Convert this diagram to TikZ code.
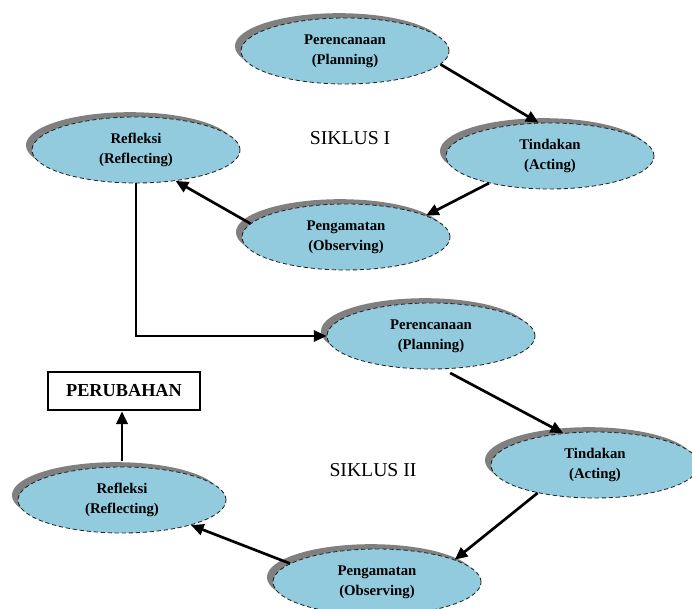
\documentclass[tikz,border=0pt]{standalone}
\usepackage{fontspec}
\setmainfont{Liberation Serif}
\usetikzlibrary{shapes.geometric, shadows, arrows.meta}
\definecolor{siklusblue}{RGB}{146,203,222}
\begin{document}
\begin{tikzpicture}[
    x = 0.025cm, y = -0.025cm,
    main/.style = {draw = black!85, densely dashed, line width = 0.6pt, ellipse,
        fill = siklusblue, minimum width = 5.2cm, minimum height = 1.65cm,
        align = center, font = \fontsize{10.5}{14}\selectfont\bfseries,
        drop shadow = {shadow xshift = -0.15cm, shadow yshift = 0.12cm,
            fill = gray, opacity = 1}},
    siklus/.style = {font = \fontsize{14}{16}\selectfont},
    conn/.style = {line width = 1.9pt, -{Triangle[length = 9pt, width = 8pt]}}
]
\useasboundingbox (0,0) rectangle (692,609);

% Siklus I
\node[main] (1) at (345,51)  {Perencanaan\\(Planning)};
\node[main] (2) at (550,156) {Tindakan\\(Acting)};
\node[main] (3) at (346,237) {Pengamatan\\(Observing)};
\node[main] (4) at (136,150) {Refleksi\\(Reflecting)};
\node[siklus] (s1) at (350,138) {SIKLUS I};

% Siklus II
\node[main] (5) at (431,336) {Perencanaan\\(Planning)};
\node[main] (6) at (595,465) {Tindakan\\(Acting)};
\node[main] (7) at (377,582) {Pengamatan\\(Observing)};
\node[main] (8) at (122,500) {Refleksi\\(Reflecting)};
\node[siklus] (s2) at (373,470) {SIKLUS II};

% Hasil
\node[draw, line width = 2pt, minimum width = 3.8cm, minimum height = 0.95cm,
    font = \fontsize{13}{15}\selectfont\bfseries] (9) at (124,391) {PERUBAHAN};

% Siklus I connections
\draw[conn] (1.-8)  -- (2.109);
\draw[conn] (2.204) -- (3.15);
\draw[conn] (3.172) -- (4.-38);

% Into siklus II
\draw[conn, line width = 1.4pt] (4.south) |- (5.west);

% Siklus II connections
\draw[conn, shorten <= 0.2cm] (5.-70) -- (6.135);
\draw[conn] (6.206) -- (7.16);
\draw[conn] (7.168) -- (8.-20);
\draw[conn, shorten <= 0.15cm] (8.north) -- (8.north |- 9.south);

\end{tikzpicture}
\end{document}
